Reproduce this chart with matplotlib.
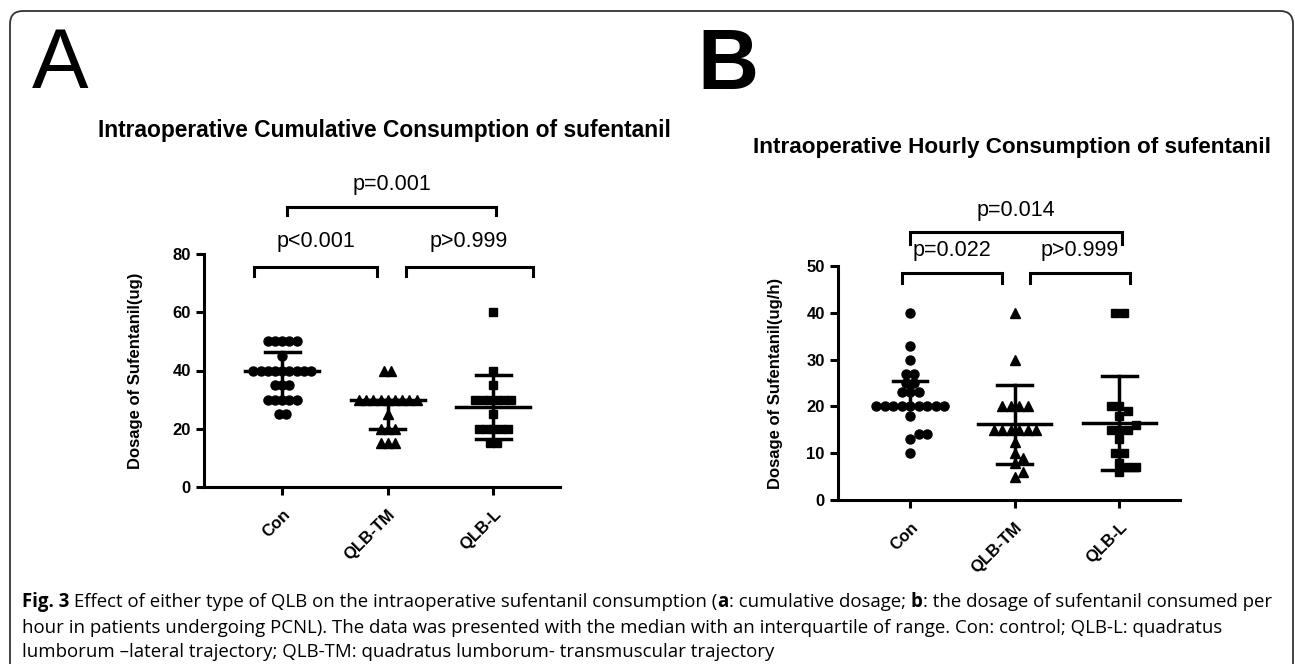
import numpy as np
import matplotlib
matplotlib.use('Agg')
import matplotlib.pyplot as plt
from matplotlib.patches import FancyBboxPatch
from matplotlib.transforms import IdentityTransform

plt.rcParams['font.family'] = ['Liberation Sans', 'DejaVu Sans']

groups = ['Con', 'QLB-TM', 'QLB-L']
markers = ['o', '^', 's']

# A: cumulative dosage (ug)
cum_con = [50, 50, 50, 50, 50, 45, 40, 40, 40, 40, 40, 40, 40, 40, 40,
           35, 35, 35, 30, 30, 30, 30, 30, 25, 25]
cum_tm = [40, 40, 30, 30, 30, 30, 30, 30, 30, 30, 30, 25, 20, 20, 20, 15, 15, 15]
cum_l = [60, 40, 35, 30, 30, 30, 30, 30, 30, 25, 20, 20, 20, 20, 20, 15, 15]
cum_median = [40, 30, 27.5]
cum_q1 = [30, 20, 16.5]
cum_q3 = [46.5, 30, 38.5]

# B: hourly dosage (ug/h)
hr_con = [40, 33, 30, 27, 27, 25, 25, 23, 23, 23, 20, 20, 20, 20, 20, 20, 20, 20, 20,
          18, 14, 14, 13, 10]
hr_tm = [40, 30, 20, 20, 20, 20, 15, 15, 15, 15, 15, 15, 12.5, 10, 9, 8, 6, 5]
hr_l = [40, 40, 20, 20, 19, 18, 16, 15, 15, 15, 13, 10, 10, 8, 7, 7, 6]
hr_median = [20, 16.2, 16.4]
hr_q1 = [20, 7.6, 6.4]
hr_q3 = [25.5, 24.6, 26.5]


def swarm_offsets(ax, values, spacing):
    """简单的蜂群图布局, 同值居中排列, 避免重叠"""
    (x0, y0), (x1, y1) = ax.transData.transform([[0, 0], [1, 1]])
    px_x, px_y = x1 - x0, y1 - y0
    vals = np.asarray(values, float)
    offs = np.zeros(len(vals))
    placed = []
    for v in sorted(set(vals)):
        idx = np.where(vals == v)[0]
        base = (np.arange(len(idx)) - (len(idx) - 1) / 2) * spacing
        y = v * px_y
        for k in range(60):
            shift = 0 if k == 0 else ((k + 1) // 2) * spacing / 2 * (1 if k % 2 else -1)
            cand = base + shift
            ok = all(np.hypot(c - px, y - py) >= spacing * 0.95
                     for c in cand for px, py in placed)
            if ok:
                break
        placed += [(c, y) for c in cand]
        offs[idx] = cand / px_x
    return offs


def draw_panel(ax, data, median, q1, q3, ymax, yticks, ylabel, spacing, msizes):
    ax.set_xlim(ax._xl)
    ax.set_ylim(0, ymax)
    for i, vals in enumerate(data):
        dx = swarm_offsets(ax, vals, spacing)
        ax.plot(i + dx, vals, linestyle='none', marker=markers[i], ms=msizes[i],
                color='black', mec='black', clip_on=False, zorder=3)
        ax.plot([i - 0.35, i + 0.35], [median[i]] * 2, color='black', lw=2.5, zorder=4)
        ax.plot([i, i], [q1[i], q3[i]], color='black', lw=2.5, zorder=4)
        for q in (q1[i], q3[i]):
            ax.plot([i - 0.165, i + 0.165], [q, q], color='black', lw=2.5, zorder=4)
    for s in ('top', 'right'):
        ax.spines[s].set_visible(False)
    for s in ('left', 'bottom'):
        ax.spines[s].set_linewidth(2.2)
    ax.spines['left'].set_bounds(0, ymax)
    ax.set_yticks(yticks)
    ax.set_xticks(range(len(groups)))
    ax.set_xticklabels(groups, rotation=45, ha='right', rotation_mode='anchor',
                       fontweight='bold', fontsize=11)
    for lab in ax.get_yticklabels():
        lab.set_fontweight('bold')
    ax.tick_params(axis='both', direction='out', length=6, width=2.2, labelsize=12)
    ax.tick_params(axis='x', pad=8)
    ax.set_ylabel(ylabel, fontweight='bold', fontsize=12)


def bracket(ax, x1, x2, y_low, y_top, label, y_text):
    ax.plot([x1, x1, x2, x2], [y_low, y_top, y_top, y_low], color='black', lw=2.2,
            clip_on=False, solid_joinstyle='miter')
    ax.text((x1 + x2) / 2, y_text, label, ha='center', va='center', fontsize=15.5)


def caption_line(fig, x, y, runs, size):
    renderer = fig.canvas.get_renderer()
    for txt, bold in runs:
        t = fig.text(x, y, txt, transform=IdentityTransform(), fontsize=size,
                     family=['Open Sans', 'DejaVu Sans'],
                     fontweight='bold' if bold else 'normal', va='baseline')
        x += t.get_window_extent(renderer).width


fig = plt.figure(figsize=(12.95, 6.64), dpi=100)

# 外框
fig.add_artist(FancyBboxPatch((10, -20), 1283, 673, boxstyle='round,pad=0,rounding_size=13',
                              transform=IdentityTransform(), fill=False,
                              ec='#333333', lw=1.3))

fig.text(32 / 1295, 1 - 88 / 664, 'A', fontsize=61, va='baseline', ha='left')
fig.text(697 / 1295, 1 - 89 / 664, 'B', fontsize=61, va='baseline', ha='left',
         fontweight='bold', family=['Liberation Sans Narrow', 'Liberation Sans'])

fig.text(384 / 1295, 1 - 130 / 664, 'Intraoperative Cumulative Consumption of sufentanil',
         ha='center', va='center', fontweight='bold', fontsize=16.4)
fig.text(1012 / 1295, 1 - 148 / 664, 'Intraoperative Hourly Consumption of sufentanil',
         ha='center', va='center', fontweight='bold', fontsize=16.2)

ax1 = fig.add_axes([204 / 1295, 1 - 487 / 664, 356 / 1295, 233 / 664])
ax1._xl = (-0.74, 2.63)
draw_panel(ax1, [cum_con, cum_tm, cum_l], cum_median, cum_q1, cum_q3, 80,
           [0, 20, 40, 60, 80], 'Dosage of Sufentanil(ug)', 7.2, [6.5, 7, 6])
ax1.yaxis.set_label_coords(-0.17, 0.5)
bracket(ax1, -0.27, 0.90, 72.3, 75.6, 'p<0.001', 84.2)
bracket(ax1, 1.17, 2.37, 72.3, 75.6, 'p>0.999', 84.2)
bracket(ax1, 0.05, 2.02, 93.5, 96.2, 'p=0.001', 103.8)

ax2 = fig.add_axes([838 / 1295, 1 - 500 / 664, 342 / 1295, 234 / 664])
ax2._xl = (-0.69, 2.58)
draw_panel(ax2, [hr_con, hr_tm, hr_l], hr_median, hr_q1, hr_q3, 50,
           [0, 10, 20, 30, 40, 50], 'Dosage of Sufentanil(ug/h)', 8.5, [6.5, 7, 6])
ax2.yaxis.set_label_coords(-0.16, 0.5)
bracket(ax2, -0.08, 0.88, 46.4, 48.5, 'p=0.022', 53.4)
bracket(ax2, 1.15, 2.10, 46.4, 48.5, 'p>0.999', 53.4)
bracket(ax2, 0.0, 2.03, 54.7, 57.3, 'p=0.014', 61.8)

cap = 13.45
caption_line(fig, 22, 664 - 607, [('Fig. 3', True),
             (' Effect of either type of QLB on the intraoperative sufentanil consumption (', False),
             ('a', True), (': cumulative dosage; ', False), ('b', True),
             (': the dosage of sufentanil consumed per', False)], cap)
caption_line(fig, 22, 664 - 633, [('hour in patients undergoing PCNL). The data was presented with '
                                   'the median with an interquartile of range. Con: control; QLB-L: '
                                   'quadratus', False)], cap)
caption_line(fig, 22, 664 - 657, [('lumborum \u2013lateral trajectory; QLB-TM: quadratus lumborum- '
                                   'transmuscular trajectory', False)], cap)

fig.savefig('out.png', dpi=100)
